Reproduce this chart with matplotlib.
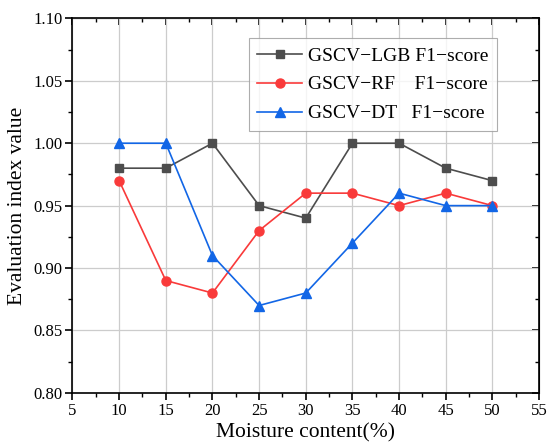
import numpy as np
import matplotlib.pyplot as plt
from matplotlib.ticker import MultipleLocator

plt.rcParams['font.family'] = ['Liberation Serif', 'DejaVu Serif']

# F1-scores at each moisture level
moisture = [10, 15, 20, 25, 30, 35, 40, 45, 50]
lgb_f1 = [0.98, 0.98, 1.00, 0.95, 0.94, 1.00, 1.00, 0.98, 0.97]
rf_f1 = [0.97, 0.89, 0.88, 0.93, 0.96, 0.96, 0.95, 0.96, 0.95]
dt_f1 = [1.00, 1.00, 0.91, 0.87, 0.88, 0.92, 0.96, 0.95, 0.95]

labels = ["GSCV\u2212LGB F1\u2212score",
          "GSCV\u2212RF    F1\u2212score",
          "GSCV\u2212DT   F1\u2212score"]

fig = plt.figure(figsize=(5.47, 4.48), dpi=100)
ax = fig.add_axes([0.1325, 0.123, 0.853, 0.836])

ax.plot(moisture, lgb_f1, color='#4d4d4d', marker='s', markersize=5.5,
        linewidth=1.2, label=labels[0])
ax.plot(moisture, rf_f1, color='#f93a3a', marker='o', markersize=6.5,
        linewidth=1.2, label=labels[1])
ax.plot(moisture, dt_f1, color='#1266e6', marker='^', markersize=7,
        linewidth=1.2, label=labels[2])

ax.set_xlim(5, 55)
ax.set_ylim(0.80, 1.10)
ax.xaxis.set_major_locator(MultipleLocator(5))
ax.xaxis.set_minor_locator(MultipleLocator(2.5))
ax.yaxis.set_major_locator(MultipleLocator(0.05))
ax.yaxis.set_minor_locator(MultipleLocator(0.025))
ax.yaxis.set_major_formatter(plt.FormatStrFormatter('%.2f'))

ax.grid(True, which='major', color='#cccccc', linewidth=0.9)
ax.set_axisbelow(True)

for s in ax.spines.values():
    s.set_linewidth(1.2)
ax.tick_params(which='major', direction='out', length=5, width=1.2,
               labelsize=12, pad=2)
ax.tick_params(which='minor', direction='out', length=3, width=1.0)

# inward ticks on top and right
top = ax.secondary_xaxis('top')
top.xaxis.set_major_locator(MultipleLocator(5))
top.xaxis.set_minor_locator(MultipleLocator(2.5))
top.tick_params(which='major', direction='in', length=5, width=1.2, labeltop=False)
top.tick_params(which='minor', direction='in', length=3, width=1.0)
right = ax.secondary_yaxis('right')
right.yaxis.set_major_locator(MultipleLocator(0.05))
right.yaxis.set_minor_locator(MultipleLocator(0.025))
right.tick_params(which='major', direction='in', length=5, width=1.2, labelright=False)
right.tick_params(which='minor', direction='in', length=3, width=1.0)

ax.set_xlabel("Moisture content(%)", fontsize=15.5, labelpad=3)
ax.set_ylabel("Evaluation index value", fontsize=15.5, labelpad=5)

leg = ax.legend(loc='upper right', bbox_to_anchor=(0.91, 0.947), fontsize=14,
                frameon=True, fancybox=False, edgecolor='#999999',
                handlelength=2.3, borderpad=0.45, labelspacing=0.58,
                handletextpad=0.3, borderaxespad=0)
leg.get_frame().set_linewidth(0.8)

fig.savefig("out.png", dpi=100)
